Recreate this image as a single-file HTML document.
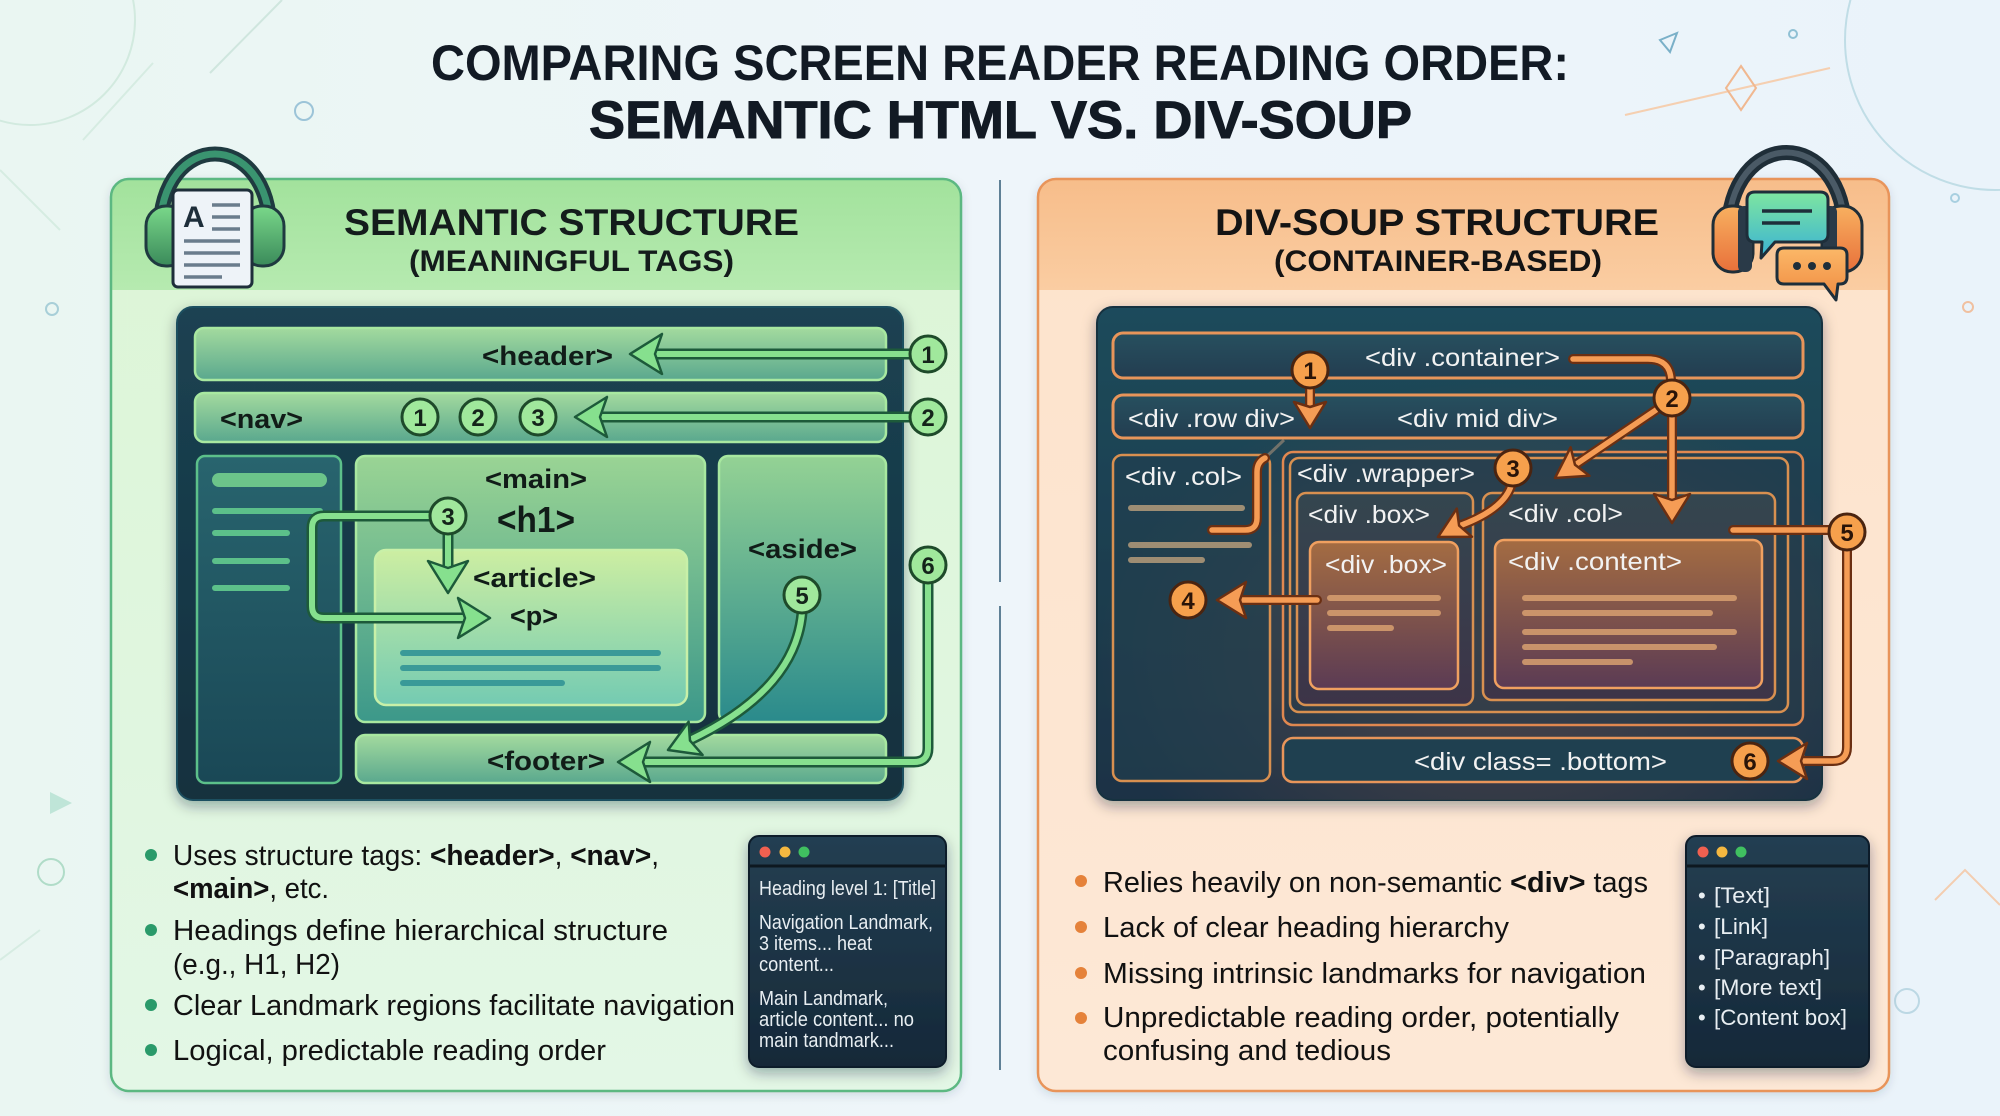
<!DOCTYPE html>
<html><head><meta charset="utf-8"><style>
html,body{margin:0;padding:0;background:#edf5fa;}
svg{display:block;}
text{font-family:"Liberation Sans",Arial,sans-serif;}
</style></head><body>
<svg width="2000" height="1116" viewBox="0 0 2000 1116" xmlns="http://www.w3.org/2000/svg">
<defs>
<linearGradient id="bg" x1="0" y1="0" x2="1" y2="0"><stop offset="0" stop-color="#eaf6f2"/><stop offset="0.5" stop-color="#eef5fa"/><stop offset="1" stop-color="#eaf3fa"/></linearGradient>
<linearGradient id="gBar" x1="0" y1="0" x2="0" y2="1"><stop offset="0" stop-color="#a3da9e"/><stop offset="1" stop-color="#5aa88e"/></linearGradient>
<linearGradient id="gMain" x1="0" y1="0" x2="0" y2="1"><stop offset="0" stop-color="#9ad494"/><stop offset="1" stop-color="#3c988a"/></linearGradient>
<linearGradient id="gArt" x1="0" y1="0" x2="0" y2="1"><stop offset="0" stop-color="#cdeea2"/><stop offset="1" stop-color="#74cbb2"/></linearGradient>
<linearGradient id="gAside" x1="0" y1="0" x2="0" y2="1"><stop offset="0" stop-color="#94d294"/><stop offset="1" stop-color="#2a8a8c"/></linearGradient>
<linearGradient id="gSide" x1="0" y1="0" x2="0" y2="1"><stop offset="0" stop-color="#28646e"/><stop offset="1" stop-color="#1a4856"/></linearGradient>
<linearGradient id="gDarkL" x1="0" y1="0" x2="0" y2="1"><stop offset="0" stop-color="#1b4252"/><stop offset="1" stop-color="#14303e"/></linearGradient>
<linearGradient id="gDarkR" x1="0" y1="0" x2="0" y2="1"><stop offset="0" stop-color="#1f4b5b"/><stop offset="1" stop-color="#1b3245"/></linearGradient>
<radialGradient id="gGlow" cx="0.55" cy="0.7" r="0.55"><stop offset="0" stop-color="#7a5048" stop-opacity="0.55"/><stop offset="1" stop-color="#7a5048" stop-opacity="0"/></radialGradient>
<linearGradient id="gBrown" x1="0" y1="0" x2="0" y2="1"><stop offset="0" stop-color="#a46c42"/><stop offset="1" stop-color="#5b3b54"/></linearGradient>
<linearGradient id="gRBar" x1="0" y1="0" x2="0" y2="1"><stop offset="0" stop-color="#27505f"/><stop offset="1" stop-color="#233d50"/></linearGradient>
<linearGradient id="gRBox" x1="0" y1="0" x2="0" y2="1"><stop offset="0" stop-color="#34464f"/><stop offset="1" stop-color="#3d3448"/></linearGradient>
<linearGradient id="gScreen" x1="0" y1="0" x2="0" y2="1"><stop offset="0" stop-color="#243f52"/><stop offset="1" stop-color="#152838"/></linearGradient>
<linearGradient id="gHeadL" x1="0" y1="0" x2="0" y2="1"><stop offset="0" stop-color="#a2e29c"/><stop offset="1" stop-color="#b6eab0"/></linearGradient>
<linearGradient id="gBodyL" x1="0" y1="0" x2="0" y2="1"><stop offset="0" stop-color="#dcf5d6"/><stop offset="1" stop-color="#e3f7e6"/></linearGradient>
<linearGradient id="gHeadR" x1="0" y1="0" x2="0" y2="1"><stop offset="0" stop-color="#f7bd8a"/><stop offset="1" stop-color="#facda2"/></linearGradient>
<linearGradient id="gBodyR" x1="0" y1="0" x2="0" y2="1"><stop offset="0" stop-color="#fde3cc"/><stop offset="1" stop-color="#fde8d6"/></linearGradient>
<linearGradient id="gCupG" x1="0" y1="0" x2="0" y2="1"><stop offset="0" stop-color="#7ad88a"/><stop offset="1" stop-color="#3a8a5a"/></linearGradient>
<linearGradient id="gCupO" x1="0" y1="0" x2="0" y2="1"><stop offset="0" stop-color="#f8b060"/><stop offset="1" stop-color="#e8703a"/></linearGradient>
<linearGradient id="gBub" x1="0" y1="0" x2="0" y2="1"><stop offset="0" stop-color="#7ee6a0"/><stop offset="1" stop-color="#3ab2d4"/></linearGradient>
<linearGradient id="gBub2" x1="0" y1="0" x2="0" y2="1"><stop offset="0" stop-color="#fbb868"/><stop offset="1" stop-color="#f08a40"/></linearGradient>
<clipPath id="cpL"><rect x="111" y="179" width="850" height="912" rx="18"/></clipPath>
<clipPath id="cpR"><rect x="1038" y="179" width="851" height="912" rx="18"/></clipPath>
<filter id="sh" x="-10%" y="-10%" width="120%" height="130%"><feDropShadow dx="0" dy="5" stdDeviation="7" flood-color="#0a2030" flood-opacity="0.35"/></filter>
<filter id="sh2" x="-10%" y="-10%" width="120%" height="130%"><feDropShadow dx="0" dy="3" stdDeviation="5" flood-color="#304050" flood-opacity="0.18"/></filter>
</defs>

<rect width="2000" height="1116" fill="url(#bg)"/>

<!-- decorations -->
<g fill="none" stroke-width="2">
<circle cx="30" cy="20" r="105" stroke="#d2eadf"/>
<line x1="210" y1="73" x2="282" y2="0" stroke="#cfe6de"/>
<line x1="153" y1="63" x2="83" y2="140" stroke="#d6ece2"/>
<line x1="0" y1="170" x2="60" y2="230" stroke="#d6ece2"/>
<circle cx="304" cy="111" r="9" stroke="#9cc4d8"/>
<circle cx="52" cy="309" r="6" stroke="#a8cfd8"/>
<circle cx="1995" cy="40" r="150" stroke="#c0dde6"/>
<line x1="1625" y1="115" x2="1830" y2="68" stroke="#f5cfb0"/>
<path d="M1741 66 L1756 88 L1741 110 L1726 88 Z" stroke="#f0b890"/>
<path d="M1660 40 L1677 33 L1670 52 Z" stroke="#7ab0c8"/>
<circle cx="1793" cy="34" r="4" stroke="#8fc0d4"/>
<circle cx="1955" cy="198" r="4" stroke="#a8cfe0"/>
<circle cx="1968" cy="307" r="5" stroke="#f0c0a0"/>
<circle cx="1907" cy="1001" r="12" stroke="#bcd8e4"/>
<path d="M1935 900 L1965 870 L2000 905" stroke="#f3cdb0"/>
<circle cx="51" cy="872" r="13" stroke="#b0dcc8"/>
<path d="M0 960 L40 930" stroke="#d6ece2"/>
</g>
<path d="M50 792 L72 803 L50 814 Z" fill="#bfe5d8"/>

<!-- Title -->
<text x="431" y="80" font-size="50" font-weight="bold" fill="#121a24" textLength="1138" lengthAdjust="spacingAndGlyphs">COMPARING SCREEN READER READING ORDER:</text>
<text x="589" y="138" font-size="53" font-weight="bold" fill="#121a24" stroke="#121a24" stroke-width="1" textLength="823" lengthAdjust="spacingAndGlyphs">SEMANTIC HTML VS. DIV-SOUP</text>

<!-- divider -->
<line x1="1000" y1="180" x2="1000" y2="582" stroke="#5f8096" stroke-width="2"/>
<line x1="1000" y1="606" x2="1000" y2="1070" stroke="#5f8096" stroke-width="2"/>

<!-- LEFT PANEL -->
<g filter="url(#sh2)"><rect x="111" y="179" width="850" height="912" rx="18" fill="url(#gBodyL)"/></g>
<g clip-path="url(#cpL)"><rect x="111" y="179" width="850" height="111" fill="url(#gHeadL)"/></g>
<rect x="111" y="179" width="850" height="912" rx="18" fill="none" stroke="#5cb882" stroke-width="2.5"/>

<!-- left icon -->
<g>
<path d="M160 232 C160 128 270 128 270 232" fill="none" stroke="#1f3a40" stroke-width="15" stroke-linecap="round"/>
<path d="M160 232 C160 128 270 128 270 232" fill="none" stroke="#3a9470" stroke-width="7" stroke-linecap="round"/>
<rect x="146" y="206" width="42" height="60" rx="20" fill="url(#gCupG)" stroke="#1f3a40" stroke-width="3"/>
<rect x="242" y="206" width="42" height="60" rx="20" fill="url(#gCupG)" stroke="#1f3a40" stroke-width="3"/>
<rect x="173" y="190" width="79" height="97" rx="5" fill="#eef3f8" stroke="#1e2e3a" stroke-width="3"/>
<text x="183" y="227" font-size="30" font-weight="bold" fill="#1e2e3a">A</text>
<g stroke="#6a7c8c" stroke-width="3.5"><line x1="212" y1="205" x2="240" y2="205"/><line x1="212" y1="217" x2="240" y2="217"/><line x1="212" y1="229" x2="240" y2="229"/><line x1="184" y1="241" x2="240" y2="241"/><line x1="184" y1="253" x2="240" y2="253"/><line x1="184" y1="265" x2="240" y2="265"/><line x1="184" y1="277" x2="222" y2="277"/></g>
</g>

<text x="344" y="235" font-size="37" font-weight="bold" fill="#141c1c" textLength="455" lengthAdjust="spacingAndGlyphs">SEMANTIC STRUCTURE</text>
<text x="409" y="271" font-size="30" font-weight="bold" fill="#141c1c" textLength="325" lengthAdjust="spacingAndGlyphs">(MEANINGFUL TAGS)</text>

<!-- left dark box -->
<g filter="url(#sh)"><rect x="177" y="307" width="726" height="493" rx="16" fill="url(#gDarkL)" stroke="#1f5060" stroke-width="2"/></g>
<g stroke-width="2.5">
<rect x="195" y="328" width="691" height="52" rx="9" fill="url(#gBar)" stroke="#a8e8a0"/>
<rect x="195" y="393" width="691" height="49" rx="9" fill="url(#gBar)" stroke="#a8e8a0"/>
<rect x="197" y="456" width="144" height="327" rx="8" fill="url(#gSide)" stroke="#5cc08a"/>
<rect x="356" y="456" width="349" height="266" rx="9" fill="url(#gMain)" stroke="#a8e8a0"/>
<rect x="375" y="550" width="312" height="155" rx="11" fill="url(#gArt)" stroke="#c8f0a8"/>
<rect x="719" y="456" width="167" height="266" rx="9" fill="url(#gAside)" stroke="#a8e8a0"/>
<rect x="356" y="735" width="530" height="48" rx="9" fill="url(#gBar)" stroke="#a8e8a0"/>
</g>
<rect x="212" y="473" width="115" height="14" rx="7" fill="#6cc48a"/>
<g fill="#5cc08a"><rect x="212" y="508" width="111" height="6" rx="3"/><rect x="212" y="530" width="78" height="6" rx="3"/><rect x="212" y="558" width="78" height="6" rx="3"/><rect x="212" y="585" width="78" height="6" rx="3"/></g>
<g fill="#3a9a98"><rect x="400" y="650" width="261" height="6" rx="3"/><rect x="400" y="665" width="261" height="6" rx="3"/><rect x="400" y="680" width="165" height="6" rx="3"/></g>

<g font-weight="bold" fill="#111c18" font-size="27">
<text x="482" y="365" textLength="131" lengthAdjust="spacingAndGlyphs">&lt;header&gt;</text>
<text x="220" y="428" textLength="83" lengthAdjust="spacingAndGlyphs">&lt;nav&gt;</text>
<text x="485" y="488" textLength="102" lengthAdjust="spacingAndGlyphs">&lt;main&gt;</text>
<text x="497" y="532" font-size="36" textLength="78" lengthAdjust="spacingAndGlyphs">&lt;h1&gt;</text>
<text x="473" y="587" textLength="123" lengthAdjust="spacingAndGlyphs">&lt;article&gt;</text>
<text x="510" y="625" textLength="48" lengthAdjust="spacingAndGlyphs">&lt;p&gt;</text>
<text x="748" y="558" textLength="109" lengthAdjust="spacingAndGlyphs">&lt;aside&gt;</text>
<text x="487" y="770" textLength="118" lengthAdjust="spacingAndGlyphs">&lt;footer&gt;</text>
</g>

<!-- left arrows -->
<g fill="none" stroke-linecap="round" stroke-linejoin="round">
<g stroke="#1d5a3a" stroke-width="11">
<path d="M912 354 H654"/><path d="M912 417 H599"/>
<path d="M430 516 H324 Q312 516 312 528 V606 Q312 618 324 618 H466"/>
<path d="M448 534 V569"/>
<path d="M928 583 V748 Q928 762 914 762 H642"/>
<path d="M802 613 Q795 690 690 740"/>
</g>
<g stroke="#86e08e" stroke-width="6">
<path d="M912 354 H654"/><path d="M912 417 H599"/>
<path d="M430 516 H324 Q312 516 312 528 V606 Q312 618 324 618 H466"/>
<path d="M448 534 V569"/>
<path d="M928 583 V748 Q928 762 914 762 H642"/>
<path d="M802 613 Q795 690 690 740"/>
</g>
</g>
<g fill="#86e08e" stroke="#1d5a3a" stroke-width="2.5" stroke-linejoin="round">
<polygon points="630,354 662,334 655,354 662,374"/>
<polygon points="575,417 607,397 600,417 607,437"/>
<polygon points="490,618 458,598 465,618 458,638"/>
<polygon points="448,593 428,561 448,568 468,561"/>
<polygon points="618,762 650,742 643,762 650,782"/>
<polygon points="668,750 702.6,754.9 690,740.6 688.6,721.7"/>
</g>
<g stroke="#1e4a2a" stroke-width="3" fill="#a0e89c">
<circle cx="928" cy="354" r="18"/><circle cx="928" cy="417" r="18"/>
<circle cx="420" cy="417" r="18"/><circle cx="478" cy="417" r="18"/><circle cx="538" cy="417" r="18"/>
<circle cx="448" cy="516" r="18"/><circle cx="802" cy="595" r="18"/><circle cx="928" cy="565" r="18"/>
</g>
<g font-size="24" font-weight="bold" fill="#14241a" text-anchor="middle">
<text x="928" y="363">1</text><text x="928" y="426">2</text>
<text x="420" y="426">1</text><text x="478" y="426">2</text><text x="538" y="426">3</text>
<text x="448" y="525">3</text><text x="802" y="604">5</text><text x="928" y="574">6</text>
</g>

<!-- left bullets -->
<g fill="#2a9a6a"><circle cx="151" cy="855" r="6"/><circle cx="151" cy="930" r="6"/><circle cx="151" cy="1005" r="6"/><circle cx="151" cy="1050" r="6"/></g>
<g font-size="29" fill="#111">
<text x="173" y="865" textLength="486" lengthAdjust="spacingAndGlyphs">Uses structure tags: <tspan font-weight="bold">&lt;header&gt;</tspan>, <tspan font-weight="bold">&lt;nav&gt;</tspan>,</text>
<text x="173" y="898" textLength="156" lengthAdjust="spacingAndGlyphs"><tspan font-weight="bold">&lt;main&gt;</tspan>, etc.</text>
<text x="173" y="940" textLength="495" lengthAdjust="spacingAndGlyphs">Headings define hierarchical structure</text>
<text x="173" y="974" textLength="167" lengthAdjust="spacingAndGlyphs">(e.g., H1, H2)</text>
<text x="173" y="1015" textLength="562" lengthAdjust="spacingAndGlyphs">Clear Landmark regions facilitate navigation</text>
<text x="173" y="1060" textLength="433" lengthAdjust="spacingAndGlyphs">Logical, predictable reading order</text>
</g>

<!-- left screen box -->
<g filter="url(#sh)"><rect x="749" y="836" width="197" height="231" rx="10" fill="url(#gScreen)" stroke="#0f1e2a" stroke-width="2"/></g>
<line x1="750" y1="866" x2="945" y2="866" stroke="#0d1820" stroke-width="3"/>
<circle cx="765" cy="852" r="5.5" fill="#f06050"/><circle cx="785" cy="852" r="5.5" fill="#f5b840"/><circle cx="804" cy="852" r="5.5" fill="#40c060"/>
<g font-size="20" fill="#e8eef2">
<text x="759" y="895" textLength="177" lengthAdjust="spacingAndGlyphs">Heading level 1: [Title]</text>
<text x="759" y="929" textLength="174" lengthAdjust="spacingAndGlyphs">Navigation Landmark,</text>
<text x="759" y="950" textLength="113" lengthAdjust="spacingAndGlyphs">3 items... heat</text>
<text x="759" y="971" textLength="75" lengthAdjust="spacingAndGlyphs">content...</text>
<text x="759" y="1005" textLength="129" lengthAdjust="spacingAndGlyphs">Main Landmark,</text>
<text x="759" y="1026" textLength="155" lengthAdjust="spacingAndGlyphs">article content... no</text>
<text x="759" y="1047" textLength="135" lengthAdjust="spacingAndGlyphs">main tandmark...</text>
</g>

<!-- RIGHT PANEL -->
<g filter="url(#sh2)"><rect x="1038" y="179" width="851" height="912" rx="18" fill="url(#gBodyR)"/></g>
<g clip-path="url(#cpR)"><rect x="1038" y="179" width="851" height="111" fill="url(#gHeadR)"/></g>
<rect x="1038" y="179" width="851" height="912" rx="18" fill="none" stroke="#e8945a" stroke-width="2.5"/>

<!-- right icon -->
<g>
<path d="M1728 235 C1728 125 1845 125 1845 235" fill="none" stroke="#1f2e38" stroke-width="15" stroke-linecap="round"/>
<path d="M1728 235 C1728 125 1845 125 1845 235" fill="none" stroke="#4a5a66" stroke-width="6" stroke-linecap="round"/>
<rect x="1713" y="206" width="40" height="66" rx="19" fill="url(#gCupO)" stroke="#1f2e38" stroke-width="3"/>
<rect x="1822" y="206" width="40" height="66" rx="19" fill="url(#gCupO)" stroke="#1f2e38" stroke-width="3"/>
<rect x="1738" y="206" width="14" height="66" rx="6" fill="#2a3a48"/>
<rect x="1823" y="206" width="14" height="66" rx="6" fill="#2a3a48"/>
<path d="M1755 192 H1820 Q1828 192 1828 200 V234 Q1828 242 1820 242 H1775 L1761 258 L1762 242 H1755 Q1747 242 1747 234 V200 Q1747 192 1755 192 Z" fill="url(#gBub)" stroke="#1e2e3a" stroke-width="3" stroke-linejoin="round"/>
<line x1="1762" y1="211" x2="1812" y2="211" stroke="#1e2e3a" stroke-width="3.5"/>
<line x1="1762" y1="223" x2="1800" y2="223" stroke="#1e2e3a" stroke-width="3.5"/>
<path d="M1784 248 H1840 Q1847 248 1847 255 V277 Q1847 284 1840 284 H1838 L1836 300 L1824 284 H1784 Q1777 284 1777 277 V255 Q1777 248 1784 248 Z" fill="url(#gBub2)" stroke="#1e2e3a" stroke-width="3" stroke-linejoin="round"/>
<circle cx="1797" cy="266" r="4" fill="#1e2e3a"/><circle cx="1812" cy="266" r="4" fill="#1e2e3a"/><circle cx="1827" cy="266" r="4" fill="#1e2e3a"/>
</g>

<text x="1215" y="235" font-size="37" font-weight="bold" fill="#141414" textLength="444" lengthAdjust="spacingAndGlyphs">DIV-SOUP STRUCTURE</text>
<text x="1274" y="271" font-size="30" font-weight="bold" fill="#141414" textLength="328" lengthAdjust="spacingAndGlyphs">(CONTAINER-BASED)</text>

<!-- right dark box -->
<g filter="url(#sh)"><rect x="1097" y="307" width="725" height="493" rx="16" fill="url(#gDarkR)" stroke="#163040" stroke-width="2"/></g>
<rect x="1097" y="307" width="725" height="493" rx="16" fill="url(#gGlow)"/>
<g stroke-width="3" fill="url(#gRBar)">
<rect x="1113" y="333" width="690" height="45" rx="10" stroke="#e8955a"/>
<rect x="1113" y="395" width="690" height="43" rx="10" stroke="#e8955a"/>
</g>
<g stroke-width="2.5">
<rect x="1113" y="455" width="157" height="326" rx="9" fill="#21404f" fill-opacity="0.6" stroke="#d89050"/>
<rect x="1283" y="452" width="520" height="273" rx="10" fill="#23394a" fill-opacity="0.5" stroke="#e08850"/>
<rect x="1290" y="458" width="498" height="254" rx="9" fill="none" stroke="#d89050"/>
<rect x="1297" y="493" width="176" height="212" rx="9" fill="url(#gRBox)" stroke="#d89050"/>
<rect x="1483" y="493" width="292" height="207" rx="9" fill="url(#gRBox)" stroke="#d89050"/>
<rect x="1310" y="542" width="148" height="147" rx="9" fill="url(#gBrown)" stroke="#f0a060"/>
<rect x="1495" y="540" width="267" height="148" rx="9" fill="url(#gBrown)" stroke="#f0a060"/>
<rect x="1283" y="738" width="520" height="44" rx="10" fill="#1f4050" stroke="#e8955a"/>
</g>
<g fill="#c8a880" fill-opacity="0.75"><rect x="1128" y="505" width="117" height="6" rx="3"/><rect x="1128" y="542" width="124" height="6" rx="3"/><rect x="1128" y="557" width="77" height="6" rx="3"/></g>
<g fill="#d8a070" fill-opacity="0.85">
<rect x="1327" y="595" width="114" height="6" rx="3"/><rect x="1327" y="610" width="114" height="6" rx="3"/><rect x="1327" y="625" width="67" height="6" rx="3"/>
<rect x="1522" y="595" width="215" height="6" rx="3"/><rect x="1522" y="610" width="191" height="6" rx="3"/><rect x="1522" y="629" width="215" height="6" rx="3"/><rect x="1522" y="644" width="195" height="6" rx="3"/><rect x="1522" y="659" width="111" height="6" rx="3"/>
</g>
<g font-size="25" fill="#f2f2f2">
<text x="1365" y="366" textLength="195" lengthAdjust="spacingAndGlyphs">&lt;div .container&gt;</text>
<text x="1128" y="427" textLength="167" lengthAdjust="spacingAndGlyphs">&lt;div .row div&gt;</text>
<text x="1397" y="427" textLength="161" lengthAdjust="spacingAndGlyphs">&lt;div mid div&gt;</text>
<text x="1125" y="485" textLength="117" lengthAdjust="spacingAndGlyphs">&lt;div .col&gt;</text>
<text x="1297" y="482" textLength="178" lengthAdjust="spacingAndGlyphs">&lt;div .wrapper&gt;</text>
<text x="1308" y="523" textLength="122" lengthAdjust="spacingAndGlyphs">&lt;div .box&gt;</text>
<text x="1508" y="522" textLength="115" lengthAdjust="spacingAndGlyphs">&lt;div .col&gt;</text>
<text x="1325" y="573" textLength="122" lengthAdjust="spacingAndGlyphs">&lt;div .box&gt;</text>
<text x="1508" y="570" textLength="174" lengthAdjust="spacingAndGlyphs">&lt;div .content&gt;</text>
<text x="1414" y="770" textLength="253" lengthAdjust="spacingAndGlyphs">&lt;div class= .bottom&gt;</text>
</g>

<!-- right arrows -->
<path d="M1265 458 L1284 440" stroke="#a89078" stroke-width="3" stroke-opacity="0.6" fill="none"/>
<g fill="none" stroke-linecap="round" stroke-linejoin="round">
<g stroke="#6b2f12" stroke-width="10">
<path d="M1573 359 H1648 Q1670 359 1671 380"/>
<path d="M1672 416 V499"/>
<path d="M1656 410 L1575 465"/>
<path d="M1310 388 V405"/>
<path d="M1511 486 Q1503 510 1459 526"/>
<path d="M1317 600 H1240"/>
<path d="M1212 530 H1245 Q1257 530 1257 518 V472 Q1257 462 1265 458"/>
<path d="M1733 530 H1829"/>
<path d="M1847 550 V747 Q1847 761 1833 761 H1801"/>
</g>
<g stroke="#f59c55" stroke-width="5.5">
<path d="M1573 359 H1648 Q1670 359 1671 380"/>
<path d="M1672 416 V499"/>
<path d="M1656 410 L1575 465"/>
<path d="M1310 388 V405"/>
<path d="M1511 486 Q1503 510 1459 526"/>
<path d="M1317 600 H1240"/>
<path d="M1212 530 H1245 Q1257 530 1257 518 V472 Q1257 462 1265 458"/>
<path d="M1733 530 H1829"/>
<path d="M1847 550 V747 Q1847 761 1833 761 H1801"/>
</g>
</g>
<g fill="#f59c55" stroke="#6b2f12" stroke-width="2.5" stroke-linejoin="round">
<polygon points="1672,523 1654,494 1672,500 1690,494"/>
<polygon points="1555,478 1589.4,475.7 1575,464.8 1570.6,447.3"/>
<polygon points="1310,428 1294,402 1310,407 1326,402"/>
<polygon points="1438,537 1472,536.8 1459.1,525.6 1456.8,508.6"/>
<polygon points="1217,600 1246,582 1240,600 1246,618"/>
<polygon points="1778,761 1807,743 1801,761 1807,779"/>
</g>
<g stroke="#4a2410" stroke-width="3" fill="#f6a04c">
<circle cx="1310" cy="370" r="18"/><circle cx="1672" cy="398" r="18"/><circle cx="1513" cy="468" r="18"/>
<circle cx="1188" cy="600" r="18"/><circle cx="1847" cy="532" r="18"/><circle cx="1750" cy="761" r="18"/>
</g>
<g font-size="24" font-weight="bold" fill="#2a1408" text-anchor="middle">
<text x="1310" y="379">1</text><text x="1672" y="407">2</text><text x="1513" y="477">3</text>
<text x="1188" y="609">4</text><text x="1847" y="541">5</text><text x="1750" y="770">6</text>
</g>

<!-- right bullets -->
<g fill="#e5823a"><circle cx="1081" cy="881" r="6"/><circle cx="1081" cy="927" r="6"/><circle cx="1081" cy="973" r="6"/><circle cx="1081" cy="1018" r="6"/></g>
<g font-size="29" fill="#111">
<text x="1103" y="892" textLength="545" lengthAdjust="spacingAndGlyphs">Relies heavily on non-semantic <tspan font-weight="bold">&lt;div&gt;</tspan> tags</text>
<text x="1103" y="937" textLength="406" lengthAdjust="spacingAndGlyphs">Lack of clear heading hierarchy</text>
<text x="1103" y="983" textLength="543" lengthAdjust="spacingAndGlyphs">Missing intrinsic landmarks for navigation</text>
<text x="1103" y="1027" textLength="516" lengthAdjust="spacingAndGlyphs">Unpredictable reading order, potentially</text>
<text x="1103" y="1060" textLength="288" lengthAdjust="spacingAndGlyphs">confusing and tedious</text>
</g>

<!-- right screen box -->
<g filter="url(#sh)"><rect x="1686" y="836" width="183" height="231" rx="10" fill="url(#gScreen)" stroke="#0f1e2a" stroke-width="2"/></g>
<line x1="1687" y1="866" x2="1868" y2="866" stroke="#0d1820" stroke-width="3"/>
<circle cx="1703" cy="852" r="5.5" fill="#f06050"/><circle cx="1722" cy="852" r="5.5" fill="#f5b840"/><circle cx="1741" cy="852" r="5.5" fill="#40c060"/>
<g font-size="22" fill="#e8eef2">
<text x="1698" y="903">•</text><text x="1714" y="903" textLength="56" lengthAdjust="spacingAndGlyphs">[Text]</text>
<text x="1698" y="934">•</text><text x="1714" y="934" textLength="54" lengthAdjust="spacingAndGlyphs">[Link]</text>
<text x="1698" y="965">•</text><text x="1714" y="965" textLength="116" lengthAdjust="spacingAndGlyphs">[Paragraph]</text>
<text x="1698" y="995">•</text><text x="1714" y="995" textLength="108" lengthAdjust="spacingAndGlyphs">[More text]</text>
<text x="1698" y="1025">•</text><text x="1714" y="1025" textLength="133" lengthAdjust="spacingAndGlyphs">[Content box]</text>
</g>
</svg>
</body></html>
